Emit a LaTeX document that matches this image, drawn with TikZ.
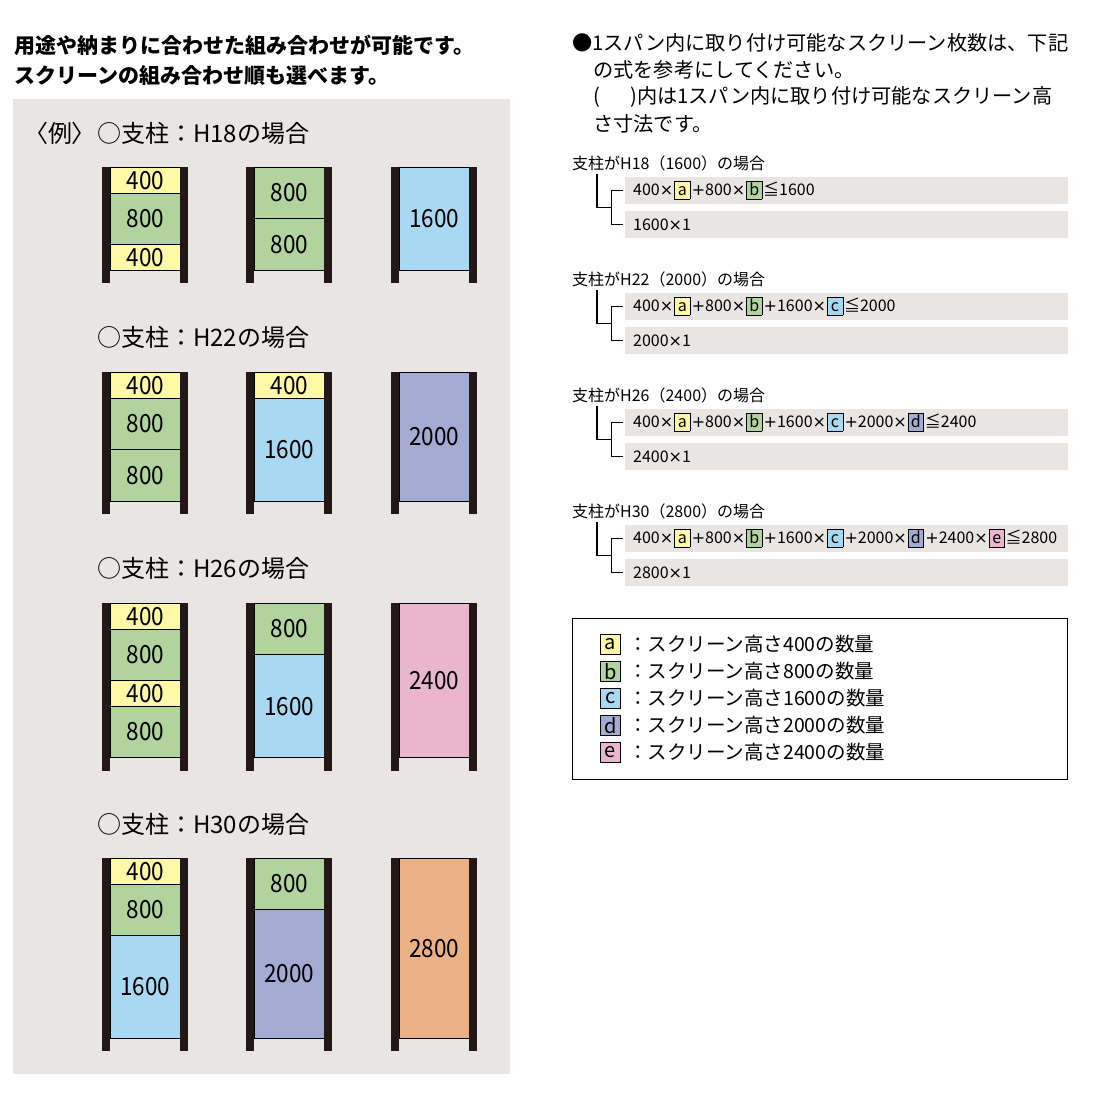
\documentclass[tikz,border=0pt]{standalone}
\usepackage{fontspec}
\usepackage{tikz}
\usetikzlibrary{calc}
\usepackage{xcolor}
\setmainfont{Noto Sans CJK JP}
\newfontfamily\numfont[FakeStretch=0.9]{Noto Sans CJK JP}
\newfontfamily\paltfont[RawFeature=+palt]{Noto Sans CJK JP}
\newfontfamily\symfont{DejaVu Sans}
\definecolor{cA}{HTML}{FFF8A6}
\definecolor{cB}{HTML}{B1D39E}
\definecolor{cC}{HTML}{A9D8F2}
\definecolor{cD}{HTML}{A3ABD2}
\definecolor{cE}{HTML}{EAB6CF}
\definecolor{cF}{HTML}{EBB185}
\definecolor{post}{HTML}{231815}
\definecolor{pane}{HTML}{E8E5E2}
\newcommand{\tms}{{\symfont ×}}
\newcommand{\pls}{\kern0.5pt{\symfont +}}
\newcommand{\lbox}[2]{\kern0.8pt{\setlength{\fboxsep}{0pt}\setlength{\fboxrule}{0.7pt}\fcolorbox{black}{#1}{\makebox[15pt]{\rule[-3.5pt]{0pt}{17pt}#2}}}\kern0.8pt}
\newcommand{\screen}[5]{%
  \foreach \un/\col/\lab [count=\i, remember=\e as \s (initially 0), evaluate=\un as \e using \s+\un, evaluate=\un as \h using \un*25.7] in {#5}
    \node[seg, fill=\col, minimum height=\h pt, anchor=north west] (#1-\i) at (#2+7.6,#3+\s*25.7) {\lab};
  \fill[post] (#2,#3) rectangle ++(7.7,#4*25.7+13.4);
  \fill[post] (#2+78,#3) rectangle ++(7.7,#4*25.7+13.4);
}

\begin{document}
\begin{tikzpicture}[x=1pt,y=-1pt,every node/.style={inner sep=0pt},
  seg/.style={draw=black,line width=0.7pt,minimum width=70.6pt,font=\numfont\fontsize{25}{25}\selectfont},
  lead/.style={anchor=west,font=\bfseries\fontsize{21}{21}\selectfont},
  head/.style={anchor=west,font=\fontsize{24}{24}\selectfont},
  para/.style={anchor=west,font=\fontsize{20.2}{20.2}\selectfont},
  caseline/.style={anchor=west,font=\fontsize{16}{16}\selectfont},
  fbar/.style={anchor=west,fill=pane,minimum height=26.5pt,text width=427pt,inner xsep=8pt,align=left,font=\fontsize{16}{16}\selectfont},
  treeline/.style={line width=1.1pt},
  keybox/.style={draw=black,line width=0.7pt,minimum width=20pt,minimum height=20pt,font=\fontsize{20}{20}\selectfont},
  keytext/.style={anchor=west,font=\fontsize{19.5}{19.5}\selectfont}]
\useasboundingbox (0,0) rectangle (1116,1108);
\fill[pane] (13,99) rectangle (510,1074);
\node[lead] (l1) at (14,45) {用途や納まりに合わせた組み合わせが可能です。};
\node[lead] (l2) at (14,76) {スクリーンの組み合わせ順も選べます。};
\node[head] (ex) at (36,133) {\paltfont 〈例〉};
\node[head] (h18) at (97,133) {○支柱：H18の場合};
\node[head] (h22) at (97,337) {○支柱：H22の場合};
\node[head] (h26) at (97,568) {○支柱：H26の場合};
\node[head] (h30) at (97,824) {○支柱：H30の場合};
\screen{a1}{102}{167}{4}{1/cA/400,2/cB/800,1/cA/400}
\screen{a2}{246}{167}{4}{2/cB/800,2/cB/800}
\screen{a3}{391}{167}{4}{4/cC/1600}
\screen{b1}{102}{372}{5}{1/cA/400,2/cB/800,2/cB/800}
\screen{b2}{246}{372}{5}{1/cA/400,4/cC/1600}
\screen{b3}{391}{372}{5}{5/cD/2000}
\screen{c1}{102}{603}{6}{1/cA/400,2/cB/800,1/cA/400,2/cB/800}
\screen{c2}{246}{603}{6}{2/cB/800,4/cC/1600}
\screen{c3}{391}{603}{6}{6/cE/2400}
\screen{d1}{102}{858}{7}{1/cA/400,2/cB/800,4/cC/1600}
\screen{d2}{246}{858}{7}{2/cB/800,5/cD/2000}
\screen{d3}{391}{858}{7}{7/cF/2800}
\node[para] (p1) at (572,43) {●1スパン内に取り付け可能なスクリーン枚数は、下記};
\node[para] (p2) at (593,70) {の式を参考にしてください。};
\node[para] (p3) at (593,97) {(\hspace{1.5em})内は1スパン内に取り付け可能なスクリーン高};
\node[para] (p4) at (593,124) {さ寸法です。};
\foreach \i/\hh/\tot/\fm in {
  0/18/1600/{400\tms\lbox{cA}{a}\pls800\tms\lbox{cB}{b}≦1600},
  1/22/2000/{400\tms\lbox{cA}{a}\pls800\tms\lbox{cB}{b}\pls1600\tms\lbox{cC}{c}≦2000},
  2/26/2400/{400\tms\lbox{cA}{a}\pls800\tms\lbox{cB}{b}\pls1600\tms\lbox{cC}{c}\pls2000\tms\lbox{cD}{d}≦2400},
  3/30/2800/{400\tms\lbox{cA}{a}\pls800\tms\lbox{cB}{b}\pls1600\tms\lbox{cC}{c}\pls2000\tms\lbox{cD}{d}\pls2400\tms\lbox{cE}{e}≦2800}} {
  \node[caseline] (t\i) at (572,163+116*\i) {支柱がH{\hh}（{\tot}）の場合};
  \node[fbar] (f\i) at (625,190.3+116*\i) {\fm};
  \node[fbar] (g\i) at (625,224.3+116*\i) {{\tot}\tms1};
  \draw[treeline] ($(t\i.south west)+(25,3)$) |- ($(f\i.west)!.5!(g\i.west)+(-13.5,0)$);
  \draw[treeline] ($(f\i.west)+(-2,0)$) -- ++(-11.5,0) |- ($(g\i.west)+(-2,0)$);
}
\draw[line width=1pt] (572.5,618.5) rectangle (1067.5,779);
\foreach \lett/\col/\val [count=\j from 0] in {a/cA/400,b/cB/800,c/cC/1600,d/cD/2000,e/cE/2400} {
  \node[keybox, fill=\col] (k\lett) at (610.5,644.5+27*\j) {\lett};
  \node[keytext] (kt\lett) at (628,644.5+27*\j) {：スクリーン高さ{\val}の数量};
}
\end{tikzpicture}
\end{document}
